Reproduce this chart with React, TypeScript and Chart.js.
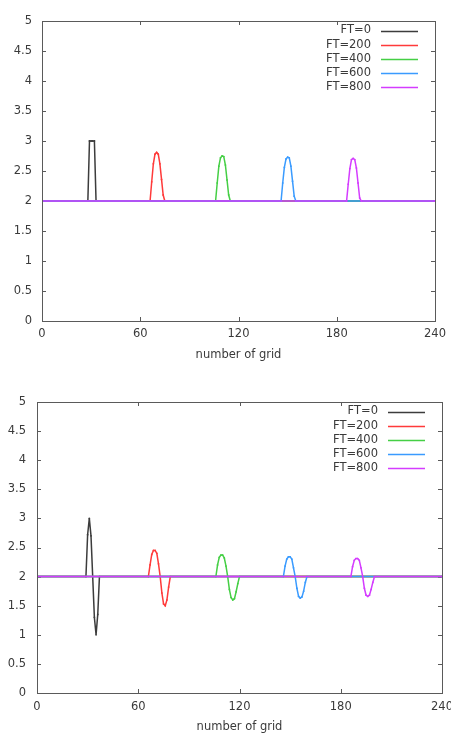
import React, { useEffect, useRef, useState } from "react";
import { Chart, registerables } from "chart.js";

Chart.register(...registerables);

// ---------- shared labels / ticks ----------
const SERIES_LABELS = ["FT=0", "FT=200", "FT=400", "FT=600", "FT=800"];
const SERIES_COLORS = ["#3c3c3c", "#ff3a3a", "#45cf45", "#3a9bff", "#d43cff"];
const X_TICKS = [0, 60, 120, 180, 240];
const X_TICK_LABELS = ["0", "60", "120", "180", "240"];
const Y_TICKS = [0, 0.5, 1, 1.5, 2, 2.5, 3, 3.5, 4, 4.5, 5];
const X_TITLE = "number of grid";

// ---------- upper panel ----------
const A_FT0_X = [0, 28, 29, 30, 31, 32, 33, 240];
const A_FT0_Y = [2, 2, 3, 3, 3, 3, 2, 2];
const A_FT200_X = [0, 66, 67, 68, 69, 70, 71, 72, 73, 74, 75, 240];
const A_FT200_Y = [2, 2, 2.32, 2.62, 2.78, 2.81, 2.78, 2.62, 2.36, 2.1, 2, 2];
const A_FT400_X = [0, 106, 107, 108, 109, 110, 111, 112, 113, 114, 115, 240];
const A_FT400_Y = [2, 2, 2.3, 2.58, 2.72, 2.75, 2.74, 2.6, 2.35, 2.1, 2, 2];
const A_FT600_X = [0, 146, 147, 148, 149, 150, 151, 152, 153, 154, 155, 240];
const A_FT600_Y = [2, 2, 2.3, 2.56, 2.7, 2.73, 2.72, 2.58, 2.33, 2.08, 2, 2];
const A_FT800_X = [0, 186, 187, 188, 189, 190, 191, 192, 193, 194, 195, 240];
const A_FT800_Y = [2, 2, 2.28, 2.54, 2.69, 2.71, 2.69, 2.55, 2.3, 2.05, 2, 2];

// ---------- lower panel ----------
const B_FT0_X = [0, 29, 30, 31, 32, 33, 34, 35, 36, 37, 240];
const B_FT0_Y = [2, 2, 2.72, 3.0, 2.7, 2.0, 1.3, 1.0, 1.35, 2.0, 2];
const B_FT200_X = [0, 66, 67, 68, 69, 70, 71, 72, 73, 74, 75, 76, 77, 78, 79, 240];
const B_FT200_Y = [2, 2, 2.2, 2.38, 2.45, 2.45, 2.4, 2.22, 2.0, 1.72, 1.53, 1.5, 1.6, 1.82, 2.0, 2];
const B_FT400_X = [0, 106, 107, 108, 109, 110, 111, 112, 113, 114, 115, 116, 117, 118, 119, 120, 240];
const B_FT400_Y = [2, 2, 2.2, 2.33, 2.37, 2.37, 2.32, 2.18, 2.0, 1.78, 1.64, 1.6, 1.62, 1.74, 1.88, 2.0, 2];
const B_FT600_X = [0, 146, 147, 148, 149, 150, 151, 152, 153, 154, 155, 156, 157, 158, 159, 160, 240];
const B_FT600_Y = [2, 2, 2.18, 2.3, 2.34, 2.34, 2.3, 2.15, 2.0, 1.8, 1.66, 1.63, 1.65, 1.75, 1.9, 2.0, 2];
const B_FT800_X = [0, 186, 187, 188, 189, 190, 191, 192, 193, 194, 195, 196, 197, 198, 199, 200, 240];
const B_FT800_Y = [2, 2, 2.17, 2.28, 2.31, 2.31, 2.28, 2.15, 2.0, 1.8, 1.68, 1.66, 1.68, 1.78, 1.9, 2.0, 2];

const PANEL_A = [
  [A_FT0_X, A_FT0_Y],
  [A_FT200_X, A_FT200_Y],
  [A_FT400_X, A_FT400_Y],
  [A_FT600_X, A_FT600_Y],
  [A_FT800_X, A_FT800_Y],
];
const PANEL_B = [
  [B_FT0_X, B_FT0_Y],
  [B_FT200_X, B_FT200_Y],
  [B_FT400_X, B_FT400_Y],
  [B_FT600_X, B_FT600_Y],
  [B_FT800_X, B_FT800_Y],
];

const FONT_FAMILY = "'DejaVu Sans', sans-serif";
const FONT_SIZE = 11.5;
const TEXT_COLOR = "#3a3a3a";
const FRAME_COLOR = "#5a5a5a";

const gnuplotPlugin = {
  id: "gnuplotFrame",
  beforeDatasetsDraw(chart: any) {
    const { ctx, chartArea } = chart;
    const { left, right, top, bottom } = chartArea;
    const xs = chart.scales.x;
    const ys = chart.scales.y;
    const tl = 4;
    ctx.save();
    ctx.strokeStyle = FRAME_COLOR;
    ctx.lineWidth = 1;
    ctx.beginPath();
    for (const v of X_TICKS) {
      const px = Math.round(xs.getPixelForValue(v)) + 0.5;
      ctx.moveTo(px, bottom);
      ctx.lineTo(px, bottom - tl);
      ctx.moveTo(px, top);
      ctx.lineTo(px, top + tl);
    }
    for (const v of Y_TICKS) {
      const py = Math.round(ys.getPixelForValue(v)) + 0.5;
      ctx.moveTo(left, py);
      ctx.lineTo(left + tl, py);
      ctx.moveTo(right, py);
      ctx.lineTo(right - tl, py);
    }
    ctx.stroke();
    ctx.restore();
  },
  afterDraw(chart: any) {
    const { ctx, chartArea } = chart;
    const { left, right, top, bottom } = chartArea;
    ctx.save();
    ctx.strokeStyle = FRAME_COLOR;
    ctx.lineWidth = 1;
    ctx.strokeRect(Math.round(left) + 0.5, Math.round(top) + 0.5, Math.round(right - left), Math.round(bottom - top));
    ctx.font = `${FONT_SIZE}px ${FONT_FAMILY}`;
    ctx.textAlign = "right";
    ctx.textBaseline = "middle";
    for (let i = 0; i < SERIES_LABELS.length; i++) {
      const y = top + 9.5 + i * 14.1;
      const yl = Math.round(y) + 0.5;
      ctx.fillStyle = TEXT_COLOR;
      ctx.fillText(SERIES_LABELS[i], right - 64, y);
      ctx.strokeStyle = SERIES_COLORS[i];
      ctx.lineWidth = 1.5;
      ctx.beginPath();
      ctx.moveTo(right - 54, yl);
      ctx.lineTo(right - 17, yl);
      ctx.stroke();
    }
    ctx.restore();
  },
};

type PanelProps = {
  series: number[][][];
  width: number;
  height: number;
  padTop: number;
  padRight: number;
  yWidth: number;
  xHeight: number;
  yPad: number;
  xLabelOffset: number;
  titlePadBottom: number;
};

function Panel(p: PanelProps) {
  const ref = useRef<HTMLCanvasElement | null>(null);
  const [xLabelPos, setXLabelPos] = useState<{ x: number; y: number }[]>([]);
  useEffect(() => {
    if (!ref.current) return;
    const font = { family: FONT_FAMILY, size: FONT_SIZE };
    const datasets = p.series.map(([xs, ys], i) => ({
      label: SERIES_LABELS[i],
      data: xs.map((x, k) => ({ x, y: ys[k] })),
      showLine: true,
      borderColor: SERIES_COLORS[i],
      backgroundColor: SERIES_COLORS[i],
      borderWidth: 1.5,
      pointRadius: 0.9,
      pointBorderWidth: 0,
      tension: 0,
      order: SERIES_LABELS.length - 1 - i,
    }));
    const chart = new Chart(ref.current, {
      type: "scatter",
      data: { datasets },
      plugins: [gnuplotPlugin],
      options: {
        animation: false,
        responsive: false,
        devicePixelRatio: 1,
        layout: { padding: { top: p.padTop, right: p.padRight, left: 0, bottom: 0 } },
        plugins: { legend: { display: false }, tooltip: { enabled: false } },
        scales: {
          x: {
            type: "linear",
            min: 0,
            max: 240,
            afterBuildTicks: (s: any) => {
              s.ticks = X_TICKS.map((v) => ({ value: v }));
            },
            afterFit: (s: any) => {
              s.height = p.xHeight;
              s.paddingLeft = 0;
              s.paddingRight = 0;
            },
            grid: { display: false, drawTicks: false },
            border: { display: false },
            ticks: { display: false },
            title: {
              display: true,
              text: X_TITLE,
              color: TEXT_COLOR,
              font,
              padding: { top: 0, bottom: p.titlePadBottom },
            },
          },
          y: {
            type: "linear",
            min: 0,
            max: 5,
            afterBuildTicks: (s: any) => {
              s.ticks = Y_TICKS.map((v) => ({ value: v }));
            },
            afterFit: (s: any) => {
              s.width = p.yWidth;
              s.paddingTop = 0;
              s.paddingBottom = 0;
            },
            grid: { display: false, drawTicks: false },
            border: { display: false },
            ticks: {
              autoSkip: false,
              padding: p.yPad,
              color: TEXT_COLOR,
              font,
              callback: (v: any) => String(v),
            },
          },
        },
      } as any,
    });
    const xsc: any = chart.scales.x;
    setXLabelPos(X_TICKS.map((v) => ({ x: xsc.getPixelForValue(v), y: chart.chartArea.bottom + p.xLabelOffset })));
    return () => chart.destroy();
  }, []);
  return (
    <div style={{ position: "relative", width: p.width, height: p.height }}>
      <canvas ref={ref} width={p.width} height={p.height} style={{ display: "block" }} />
      {xLabelPos.map((pos, i) => (
        <span
          key={i}
          style={{
            position: "absolute",
            left: pos.x,
            top: pos.y,
            transform: "translate(-50%, -50%)",
            font: `${FONT_SIZE}px ${FONT_FAMILY}`,
            lineHeight: 1,
            color: TEXT_COLOR,
            whiteSpace: "nowrap",
          }}
        >
          {X_TICK_LABELS[i]}
        </span>
      ))}
    </div>
  );
}

export default function App() {
  return (
    <div
      style={{
        position: "fixed",
        left: 0,
        top: 0,
        width: 451,
        height: 733,
        overflow: "hidden",
        background: "#ffffff",
      }}
    >
      <div style={{ position: "absolute", left: 0, top: 0 }}>
        <Panel
          series={PANEL_A}
          width={451}
          height={370}
          padTop={21}
          padRight={16}
          yWidth={42}
          xHeight={49}
          yPad={10}
          xLabelOffset={12.5}
          titlePadBottom={7.6}
        />
      </div>
      <div style={{ position: "absolute", left: 0, top: 370 }}>
        <Panel
          series={PANEL_B}
          width={451}
          height={380}
          padTop={32}
          padRight={9}
          yWidth={37}
          xHeight={57}
          yPad={11}
          xLabelOffset={13.7}
          titlePadBottom={16}
        />
      </div>
    </div>
  );
}
